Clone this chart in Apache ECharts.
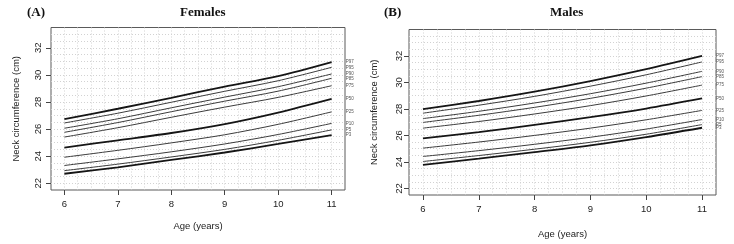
<!DOCTYPE html>
<html>
<head>
<meta charset="utf-8">
<script src="https://cdn.jsdelivr.net/npm/echarts@6/dist/echarts.min.js"></script>
<style>
  html, body { margin: 0; padding: 0; background: #fff; }
  #chart { width: 734px; height: 244px; }
</style>
</head>
<body>
<div id="chart"></div>
<script>
// ages on the x axis
const ages = [6, 7, 8, 9, 10, 11];
// curve names, top to bottom
const percentiles = ['P97', 'P95', 'P90', 'P85', 'P75', 'P50', 'P25', 'P10', 'P5', 'P3'];
// heavier curves
const boldCurves = ['P97', 'P50', 'P3'];

// neck circumference (cm) per percentile, ages 6..11
const femaleValues = [
  [26.73, 27.50, 28.31, 29.13, 29.91, 30.95],
  [26.45, 27.17, 27.98, 28.79, 29.57, 30.56],
  [26.06, 26.76, 27.57, 28.36, 29.13, 30.07],
  [25.76, 26.48, 27.28, 28.06, 28.80, 29.75],
  [25.41, 26.10, 26.87, 27.62, 28.34, 29.20],
  [24.63, 25.17, 25.71, 26.37, 27.22, 28.23],
  [23.92, 24.43, 24.98, 25.58, 26.35, 27.27],
  [23.31, 23.80, 24.32, 24.90, 25.60, 26.42],
  [22.93, 23.41, 23.94, 24.50, 25.17, 25.94],
  [22.70, 23.17, 23.72, 24.27, 24.90, 25.56]
];
const maleValues = [
  [27.98, 28.60, 29.30, 30.10, 31.00, 32.00],
  [27.68, 28.28, 28.95, 29.72, 30.58, 31.55],
  [27.27, 27.82, 28.45, 29.15, 29.95, 30.84],
  [26.98, 27.52, 28.12, 28.80, 29.57, 30.44],
  [26.55, 27.05, 27.62, 28.25, 28.98, 29.80],
  [25.77, 26.25, 26.80, 27.38, 28.03, 28.79],
  [25.04, 25.50, 26.00, 26.55, 27.18, 27.89],
  [24.41, 24.85, 25.33, 25.86, 26.48, 27.20],
  [24.03, 24.48, 24.96, 25.48, 26.09, 26.82],
  [23.78, 24.24, 24.74, 25.25, 25.87, 26.58]
];
// tick labels
const xTicks = [6, 7, 8, 9, 10, 11];
const yTicks = [22, 24, 26, 28, 30, 32];

const chart = echarts.init(document.getElementById('chart'), null, { renderer: 'canvas' });

const sans = 'Liberation Sans, Arial, sans-serif';
const serif = 'Liberation Serif, Times New Roman, serif';
const gridLine = { show: true, showMinLine: false, showMaxLine: false,
  lineStyle: { color: '#d2d2d2', type: [1, 2], width: 1 } };

// panel layout
const panels = [
  { left: 51, top: 27.5, width: 294, height: 162.5, yMax: 33.5, values: femaleValues, yLabelMargin: 8, xNameGap: 31 },
  { left: 409, top: 29.5, width: 307, height: 169, yMax: 34, values: maleValues, yLabelMargin: 5, xNameGap: 34 }
];

const grid = [], xAxis = [], yAxis = [], series = [];

panels.forEach((p, g) => {
  grid.push({ left: p.left, top: p.top, width: p.width, height: p.height, show: true,
    borderColor: '#5a5a5a', borderWidth: 1, backgroundColor: '#fff' });

  // grid-line axes
  xAxis.push({ type: 'value', gridIndex: g, min: 5.75, max: 11.25, interval: 0.25,
    axisLine: { show: false }, axisTick: { show: false }, axisLabel: { show: false }, splitLine: gridLine });
  yAxis.push({ type: 'value', gridIndex: g, min: 21.5, max: p.yMax, interval: 0.5,
    axisLine: { show: false }, axisTick: { show: false }, axisLabel: { show: false }, splitLine: gridLine });

  // labelled axes
  xAxis.push({ type: 'value', gridIndex: g, min: 5.75, max: 11.25, position: 'bottom',
    name: 'Age (years)', nameLocation: 'middle', nameGap: p.xNameGap,
    nameTextStyle: { fontFamily: sans, fontSize: 9.5, color: '#222' },
    axisLine: { show: false },
    axisTick: { show: true, length: 5, customValues: xTicks, lineStyle: { color: '#444' } },
    axisLabel: { show: true, customValues: xTicks, margin: 9, fontFamily: sans, fontSize: 9.5, color: '#222' },
    splitLine: { show: false } });
  yAxis.push({ type: 'value', gridIndex: g, min: 21.5, max: p.yMax, position: 'left',
    name: 'Neck circumference (cm)', nameLocation: 'middle', nameGap: 30,
    nameTextStyle: { fontFamily: sans, fontSize: 9.5, color: '#222' },
    axisLine: { show: false },
    axisTick: { show: true, length: 5, customValues: yTicks, lineStyle: { color: '#444' } },
    axisLabel: { show: true, customValues: yTicks, rotate: 90, margin: p.yLabelMargin, fontFamily: sans, fontSize: 9.5, color: '#222' },
    splitLine: { show: false } });

  percentiles.forEach((name, i) => {
    const bold = boldCurves.includes(name);
    series.push({
      name: name + (g === 0 ? ' F' : ' M'),
      type: 'line',
      xAxisIndex: g * 2 + 1,
      yAxisIndex: g * 2 + 1,
      data: ages.map((a, k) => [a, p.values[i][k]]),
      smooth: 0.3,
      symbol: 'none',
      lineStyle: { color: bold ? '#151515' : '#3c3c3c', width: bold ? 1.8 : 1 },
      endLabel: {
        show: true, formatter: name, distance: 14,
        fontFamily: sans, fontSize: 4.5, color: '#555'
      },
      silent: true
    });
  });
});

const option = {
  animation: false,
  backgroundColor: '#fff',
  title: [
    { text: '(A)', left: 27, top: 6, padding: 0, textStyle: { fontFamily: serif, fontWeight: 'bold', fontSize: 13, color: '#111' } },
    { text: 'Females', left: 180, top: 6, padding: 0, textStyle: { fontFamily: serif, fontWeight: 'bold', fontSize: 13, color: '#111' } },
    { text: '(B)', left: 384, top: 6, padding: 0, textStyle: { fontFamily: serif, fontWeight: 'bold', fontSize: 13, color: '#111' } },
    { text: 'Males', left: 550, top: 6, padding: 0, textStyle: { fontFamily: serif, fontWeight: 'bold', fontSize: 13, color: '#111' } }
  ],
  grid: grid,
  xAxis: xAxis,
  yAxis: yAxis,
  series: series
};

chart.setOption(option);
</script>
</body>
</html>
